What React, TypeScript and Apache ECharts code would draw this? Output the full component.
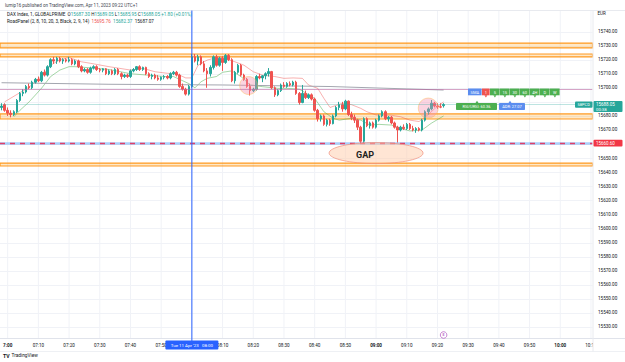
import React, { useEffect, useRef } from "react";
import * as echarts from "echarts";

const FONT = 'Roboto, "Noto Sans", sans-serif';

// 1-minute categories 06:58 .. 10:10
const times: string[] = [];
for (let t = 6 * 60 + 58; t <= 10 * 60 + 10; t++) {
  times.push(`${String(Math.floor(t / 60)).padStart(2, "0")}:${String(t % 60).padStart(2, "0")}`);
}

// candles from 06:58 to 09:22
const opens = [15686,15688,15684,15682,15681,15683,15691,15696,15697,15701,15700,15704,15706,15705,15711,15709,15715,15720,15719,15721,15719,15720,15719,15720,15717,15719,15715,15712,15713,15711,15714,15715,15713,15712.5,15713.5,15710,15712,15710,15713,15710,15708,15709,15708,15712,15713,15715,15713,15714.5,15710,15708,15709,15707,15706,15707.5,15708,15707,15710,15711,15709,15701,15699,15695.5,15701,15722,15719,15722,15717,15712,15710,15714.5,15722,15716,15721,15718,15723,15720,15705,15711,15716,15709,15706,15701,15698,15699,15708,15707,15708.5,15710,15711.5,15700,15695,15698,15702,15701,15703,15702,15704,15696,15689.5,15696,15693,15695,15692,15684,15678,15680,15674,15677,15674.5,15680,15686,15688,15685,15690.5,15681,15679,15677,15672,15662,15678,15673,15675,15672,15677,15680,15683,15678,15679,15675,15672,15670,15672,15671,15674,15671,15670,15671,15670,15677,15683,15685,15689,15687,15686.5,15687.3];
const highs = [15689,15689,15686,15684,15684,15692,15697,15699,15702,15703,15705,15707,15708,15712,15713,15716,15721,15722,15722,15722,15721,15721,15722,15721,15720,15720,15716,15714,15714,15715,15716,15716,15714,15714,15714,15713,15713,15714,15714,15711,15710,15710,15713,15714,15715.5,15716,15715,15715,15711,15710,15710,15709,15708,15709,15709,15711,15712,15712,15710,15703,15700,15702,15724,15724,15723.5,15723,15719,15714,15716,15723,15723.5,15722,15722.5,15724,15724,15721,15712,15717,15717,15710,15707,15703,15700,15709,15710,15709,15711,15714,15712,15701,15699,15703,15704,15704,15704.5,15705,15705,15697,15702,15698,15696,15696,15693,15685,15681,15681,15678,15678,15681,15687,15690,15690,15691.5,15691,15683,15681,15678,15673,15679,15679,15676,15676,15678,15681,15684,15684,15680,15680,15676,15673,15673,15674,15675,15675,15673,15672,15672,15678,15684,15686,15691.3,15690,15689,15689,15689.05];
const lows = [15684,15683,15680,15679,15680,15682,15690,15694,15696,15699,15699,15703,15704,15704,15708,15708,15714,15717,15717,15718,15717,15718,15718,15716,15716,15714,15711,15711,15710,15710,15713,15712,15711,15711,15709,15709,15709,15709,15709,15706,15707,15707,15707,15711,15712,15712,15712,15709,15707,15706,15706,15705,15705,15706,15706,15706,15709,15708,15700,15698,15694.5,15694.5,15700,15718,15716,15716,15711,15700,15708,15713,15715,15715,15712,15717,15719,15704,15703,15710,15708,15705,15700,15694.5,15697,15698,15706,15704,15706,15708,15699,15693.5,15694,15697,15700,15700,15701,15701,15695,15688,15689,15692,15692,15691,15683,15676,15676,15673,15672.5,15673,15674,15679,15684,15683,15684,15680,15677,15675,15670,15660.5,15660.5,15672,15671,15671,15671,15676,15679,15677,15676,15674,15671,15661,15669,15670,15670,15670,15669,15668,15669,15669,15676,15681,15684,15686,15685,15685.5,15685.95];
const closes = [15687,15684,15682,15681,15683,15691,15696,15697,15701,15700,15704,15706,15705,15711,15709,15715,15720,15719,15721,15719,15720,15719,15720,15717,15719,15715,15712,15713,15711,15714,15715,15713,15712.5,15713.5,15710,15712,15710,15713,15710,15708,15709,15708,15712,15713,15715,15713,15714.5,15710,15708,15709,15707,15706,15707.5,15708,15707,15710,15711,15709,15701,15699,15695.5,15701,15722,15719,15722,15717,15712,15710,15714.5,15722,15716,15721,15718,15723,15720,15705,15711,15716,15709,15706,15701,15698,15699,15708,15707,15708.5,15710,15711.5,15700,15695,15698,15702,15701,15703,15702,15704,15696,15689.5,15696,15693,15695,15692,15684,15678,15680,15674,15677,15674.5,15680,15686,15688,15685,15690.5,15681,15679,15677,15672,15662,15678,15673,15675,15672,15677,15680,15683,15678,15679,15675,15672,15670,15672,15671,15674,15671,15670,15671,15670,15677,15683,15685,15689,15687,15686.5,15686.25,15688.05];

// indicator lines (read at sampled minutes)
const pinkTimes = ["06:59","07:07","07:11","07:14","07:17","07:20","07:24","07:27","07:33","07:40","07:44","07:48","07:52","07:55","07:58","08:00","08:02","08:05","08:09","08:14","08:17","08:20","08:23","08:27","08:30","08:33","08:36","08:38","08:41","08:43","08:45","08:49","08:52","08:55","08:57","09:00","09:05","09:08","09:11","09:14","09:17","09:19","09:22"];
const pinkValues = [15690,15700.5,15708,15716,15720,15721.5,15718.5,15717.4,15715,15712.6,15713.8,15711.4,15710.3,15710,15707,15707,15716,15719.7,15722,15718.5,15716,15711.4,15709,15708,15706.7,15707,15706.7,15702,15699.6,15692.5,15686,15689,15688,15685.4,15683,15680.7,15680.5,15679.4,15677,15676,15681,15685,15690];
const greenTimes = ["07:02","07:04","07:07","07:11","07:14","07:17","07:20","07:22","07:28","07:33","07:40","07:51","07:54","07:59","08:01","08:03","08:05","08:08","08:10","08:13","08:16","08:19","08:23","08:28","08:31","08:35","08:40","08:43","08:46","08:48","08:52","08:55","08:58","09:01","09:05","09:08","09:11","09:15","09:18","09:22"];
const greenValues = [15679.4,15684,15690,15699.6,15708,15712.6,15715,15715,15714,15713,15710,15708,15708,15703,15700,15704.3,15706.7,15708,15711,15712,15708,15702,15700.8,15699.6,15699.6,15699,15692.5,15683,15678.3,15677,15678.3,15677,15673.5,15674,15673.5,15671.2,15669.3,15670,15674.8,15680];
const grayTimes = ["06:58","07:33","08:10","08:45","09:22"];
const grayValues = [15703.6,15702.5,15702,15700.9,15698.4];

// horizontal zones and levels
const bandTops = [15731.8, 15724, 15681.4, 15646.5];
const bandBottoms = [15728.3, 15721.9, 15677.8, 15644.4];
const gapLevel = 15660.6;
const lastPrice = 15688.05;
const flatLevel = 15699.3;

export default function App() {
  const ref = useRef<HTMLDivElement>(null);
  useEffect(() => {
    const chart = echarts.init(ref.current!, null, { renderer: "svg" });
    const candleData = opens.map((o, i) => [o, closes[i], lows[i], highs[i]]);
    const option: any = {
      animation: false,
      grid: { left: 0, top: 3.36, width: 592.5, height: 337.7 },
      xAxis: {
        type: "category",
        data: times,
        boundaryGap: true,
        axisLine: { show: false },
        axisTick: { show: false },
        splitLine: { show: false },
        axisLabel: {
          interval: (_i: number, v: string) => v[4] === "0",
          margin: 2,
          fontSize: 4.6,
          fontFamily: FONT,
          color: "#131722",
          formatter: (v: string) => {
            if (v === "07:00") return "{b|7:00}";
            if (v === "09:00" || v === "10:00") return `{b|${v}}`;
            if (v === "08:00") return "";
            return v;
          },
          rich: { b: { fontWeight: "bold", fontSize: 4.6, fontFamily: FONT, color: "#131722" } },
        },
      },
      yAxis: {
        type: "value",
        position: "right",
        min: 15520,
        max: 15760,
        interval: 10,
        axisLine: { show: false },
        axisTick: { show: false },
        splitLine: { show: false },
        axisLabel: {
          margin: 5.5,
          fontSize: 4.6,
          fontFamily: FONT,
          color: "#131722",
          formatter: (v: number) =>
            v < 15530 || v > 15740 || v === 15690 || v === 15660 ? "" : v.toFixed(2),
        },
      },
      series: [
        {
          type: "candlestick",
          z: 3,
          barWidth: 2,
          data: candleData,
          itemStyle: {
            color: "#26a69a",
            color0: "#ef5350",
            borderColor: "#26a69a",
            borderColor0: "#ef5350",
            borderWidth: 1,
          },
          markArea: {
            silent: true,
            itemStyle: {
              color: "rgba(255,152,0,0.22)",
              borderColor: "rgba(255,140,0,0.85)",
              borderWidth: 1.2,
            },
            data: bandTops.map((t, i) => [{ yAxis: t }, { yAxis: bandBottoms[i] }]),
          },
        },
        {
          type: "line",
          name: "pink",
          z: 2,
          showSymbol: false,
          data: pinkTimes.map((t, i) => [t, pinkValues[i]]),
          lineStyle: { color: "rgba(239,83,80,0.45)", width: 1 },
        },
        {
          type: "line",
          name: "green",
          z: 2,
          showSymbol: false,
          data: greenTimes.map((t, i) => [t, greenValues[i]]),
          lineStyle: { color: "rgba(76,175,80,0.5)", width: 1 },
        },
        {
          type: "line",
          name: "gray",
          z: 2,
          showSymbol: false,
          data: grayTimes.map((t, i) => [t, grayValues[i]]),
          lineStyle: { color: "#a3a6af", width: 1 },
          markLine: {
            silent: true,
            symbol: "none",
            label: { show: false },
            data: [
              { yAxis: flatLevel, lineStyle: { color: "rgba(186,104,160,0.6)", width: 1, type: "solid" } },
              { yAxis: lastPrice, lineStyle: { color: "rgba(38,166,154,0.3)", width: 1, type: "solid" } },
              { yAxis: gapLevel, lineStyle: { color: "rgba(100,170,245,0.55)", width: 2.6, type: "solid" } },
              { yAxis: gapLevel, lineStyle: { color: "#e0406a", width: 1.3, type: [5, 5] } },
            ],
          },
        },
      ],
    };
    chart.setOption(option);

    const P = (i: number, v: number) => chart.convertToPixel({ xAxisIndex: 0, yAxisIndex: 0 }, [i, v]) as number[];
    const xOf = (t: string) => P(times.indexOf(t), 15600)[0];
    const yOf = (v: number) => P(0, v)[1];
    const g: any[] = [];
    const txt = (x: number, y: number, text: string, opts: any = {}) => ({
      type: "text",
      x,
      y,
      z: 100,
      silent: true,
      style: {
        text,
        fill: opts.fill || "#131722",
        fontSize: opts.size || 4.6,
        fontFamily: FONT,
        fontWeight: opts.weight || "normal",
        align: opts.align || "left",
        textAlign: opts.align || "left",
        verticalAlign: "middle",
        textVerticalAlign: "middle",
        rich: opts.rich,
      },
    });
    // grid lines
    for (let v = 15530; v <= 15740; v += 10) {
      const y = Math.round(yOf(v)) + 0.5;
      g.push({ type: "line", z: 0, silent: true, shape: { x1: 0, y1: y, x2: 592.5, y2: y }, style: { stroke: "#f0f2f7", lineWidth: 1 } });
    }
    times.forEach((t) => {
      if (t[4] === "0") {
        const x = xOf(t);
        g.push({ type: "line", z: 0, silent: true, shape: { x1: x, y1: 10, x2: x, y2: 338 }, style: { stroke: "#f0f2f7", lineWidth: 1 } });
      }
    });
    // frame
    g.push({ type: "line", z: 1, silent: true, shape: { x1: 0, y1: 10.5, x2: 625, y2: 10.5 }, style: { stroke: "#e8eaef", lineWidth: 1 } });
    g.push({ type: "line", z: 1, silent: true, shape: { x1: 0, y1: 338.5, x2: 625, y2: 338.5 }, style: { stroke: "#e0e3eb", lineWidth: 1 } });
    g.push({ type: "line", z: 1, silent: true, shape: { x1: 0, y1: 351.5, x2: 625, y2: 351.5 }, style: { stroke: "#eef0f4", lineWidth: 1 } });
    g.push({ type: "rect", z: 50, silent: true, shape: { x: 593, y: 339, width: 32, height: 12 }, style: { fill: "#fff" } });
    g.push({ type: "line", z: 51, silent: true, shape: { x1: 593, y1: 10.5, x2: 593, y2: 351.5 }, style: { stroke: "#e8eaef", lineWidth: 1 } });

    // vertical drawing line at 08:00
    const x8 = xOf("08:00");
    g.push({ type: "line", z: 60, silent: true, shape: { x1: x8, y1: 10.5, x2: x8, y2: 341 }, style: { stroke: "#2962ff", lineWidth: 1 } });
    g.push({ type: "rect", z: 61, silent: true, shape: { x: x8 - 26.5, y: 340.5, width: 53, height: 9, r: 1 }, style: { fill: "#2962ff" } });
    g.push(txt(x8, 345, "Tue 11 Apr '23   08:00", { fill: "#fff", align: "center", size: 4.4 }));

    // highlight circles
    const c1 = P(times.indexOf("08:18"), 15701.6);
    g.push({ type: "circle", z: 4, silent: true, shape: { cx: c1[0] + 1.5, cy: c1[1], r: 9 }, style: { fill: "rgba(244,143,177,0.38)", stroke: "rgba(255,183,77,0.55)", lineWidth: 0.8 } });
    const c2 = P(times.indexOf("09:17"), 15685.6);
    g.push({ type: "circle", z: 4, silent: true, shape: { cx: c2[0], cy: c2[1], r: 10 }, style: { fill: "rgba(244,143,177,0.38)", stroke: "rgba(255,183,77,0.55)", lineWidth: 0.8 } });

    // GAP ellipse
    const ge = P(times.indexOf("09:00"), 15653.6);
    g.push({ type: "ellipse", z: 6, silent: true, shape: { cx: ge[0], cy: ge[1], rx: 47, ry: 10.5 }, style: { fill: "rgba(255,204,170,0.5)", stroke: "rgba(240,140,120,0.85)", lineWidth: 0.8 } });
    g.push(txt(ge[0] - 11, ge[1] + 1.5, "GAP", { weight: "bold", size: 9, fill: "#1e1e1e", align: "center" }));

    // earnings marker
    const xe = xOf("09:22");
    g.push({ type: "circle", z: 60, silent: true, shape: { cx: xe, cy: 335, r: 3.3 }, style: { fill: "#fff", stroke: "#ba68c8", lineWidth: 0.8 } });
    g.push(txt(xe, 335.2, "E", { fill: "#ba68c8", size: 3.6, align: "center", weight: "bold" }));

    // price axis tags
    const yl = yOf(lastPrice);
    g.push({ type: "rect", z: 70, silent: true, shape: { x: 593.5, y: yl - 3.6, width: 29, height: 11, r: 1 }, style: { fill: "#26a69a" } });
    g.push(txt(596, yl, lastPrice.toFixed(2), { fill: "#fff", size: 4.5 }));
    g.push(txt(596, yl + 5, "00:38", { fill: "#fff", size: 4.3 }));
    g.push({ type: "rect", z: 70, silent: true, shape: { x: 575, y: yl - 3.2, width: 17.5, height: 6.4, r: 1 }, style: { fill: "#26a69a" } });
    g.push(txt(583.7, yl, "58PCD", { fill: "#fff", size: 4, align: "center" }));
    const yg = yOf(gapLevel);
    g.push({ type: "rect", z: 70, silent: true, shape: { x: 593.5, y: yg - 3.4, width: 29, height: 6.8, r: 1 }, style: { fill: "#f23645" } });
    g.push(txt(596, yg, gapLevel.toFixed(2), { fill: "#fff", size: 4.5 }));
    g.push(txt(597.5, 13.5, "EUR", { fill: "#131722", size: 4.5 }));

    // panel widget
    const row1 = [
      { x: 468, w: 14, c: "#5b8def", t: "SMA" },
      { x: 482, w: 8, c: "#ef5350", t: "1" },
      { x: 490, w: 10, c: "#4caf50", t: "5" },
      { x: 500, w: 10, c: "#4caf50", t: "15" },
      { x: 510, w: 10, c: "#4caf50", t: "30" },
      { x: 520, w: 10, c: "#4caf50", t: "60" },
      { x: 530, w: 10, c: "#4caf50", t: "4H" },
      { x: 540, w: 10, c: "#4caf50", t: "D" },
      { x: 550, w: 10, c: "#4caf50", t: "W" },
    ];
    row1.forEach((b, i) => {
      g.push({ type: "rect", z: 80, silent: true, shape: { x: b.x, y: 88.5, width: b.w - 0.4, height: 6.8 }, style: { fill: b.c } });
      if (i > 0)
        g.push({ type: "polygon", z: 80, silent: true, shape: { points: [[b.x + b.w / 2 - 1.6, 95.2], [b.x + b.w / 2 + 1.4, 95.2], [b.x + b.w / 2 - 0.1, 97.4]] }, style: { fill: b.c } });
      g.push(txt(b.x + b.w / 2 - 0.2, 92, b.t, { fill: "#fff", size: 4, align: "center" }));
    });
    g.push({ type: "rect", z: 80, silent: true, shape: { x: 456, y: 103, width: 41, height: 7, r: 0.8 }, style: { fill: "#4caf50" } });
    g.push({ type: "polygon", z: 80, silent: true, shape: { points: [[475.5, 103], [478.5, 103], [477, 100.8]] }, style: { fill: "#4caf50" } });
    g.push(txt(476.5, 106.6, "RSI/URSI: 60.36", { fill: "#fff", size: 4, align: "center" }));
    g.push({ type: "rect", z: 80, silent: true, shape: { x: 499, y: 103, width: 26, height: 7, r: 0.8 }, style: { fill: "#5b8def" } });
    g.push({ type: "polygon", z: 80, silent: true, shape: { points: [[508.5, 103], [511.5, 103], [510, 100.8]] }, style: { fill: "#5b8def" } });
    g.push(txt(512, 106.6, "ADR: 27.07", { fill: "#fff", size: 4, align: "center" }));

    // header
    g.push(txt(5, 5.7, "lumip16 published on TradingView.com, Apr 11, 2023 09:22 UTC+1", { fill: "#434651", size: 4.5 }));
    g.push({
      ...txt(7, 14.5, "{d|DAX Index, 1, GLOBALPRIME  O}{g|15687.30}{d| H}{g|15689.05}{d| L}{g|15685.95}{d| C}{g|15688.05}{g| +1.80 (+0.01%)}", {
        size: 4.6,
        rich: {
          d: { fill: "#131722", fontSize: 4.6, fontFamily: FONT },
          g: { fill: "#26a69a", fontSize: 4.6, fontFamily: FONT },
        },
      }),
    });
    g.push({
      ...txt(7, 21, "{d|RoadPanel (2, 8, 10, 20, 3, Black, 2, 9, 14)  }{r|15695.76}{d|  }{g|15682.37}{d|  15687.07}", {
        size: 4.6,
        rich: {
          d: { fill: "#131722", fontSize: 4.6, fontFamily: FONT },
          g: { fill: "#26a69a", fontSize: 4.6, fontFamily: FONT },
          r: { fill: "#ef5350", fontSize: 4.6, fontFamily: FONT },
        },
      }),
    });
    // logo
    g.push(txt(3, 355.5, "TV", { weight: "bold", size: 5.2, fill: "#131722" }));
    g.push(txt(11.5, 355.5, "TradingView", { size: 4.8, fill: "#131722" }));

    chart.setOption({ graphic: g });
    return () => chart.dispose();
  }, []);
  return <div ref={ref} style={{ position: "fixed", left: 0, top: 0, width: 625, height: 362, background: "#fff" }} />;
}
